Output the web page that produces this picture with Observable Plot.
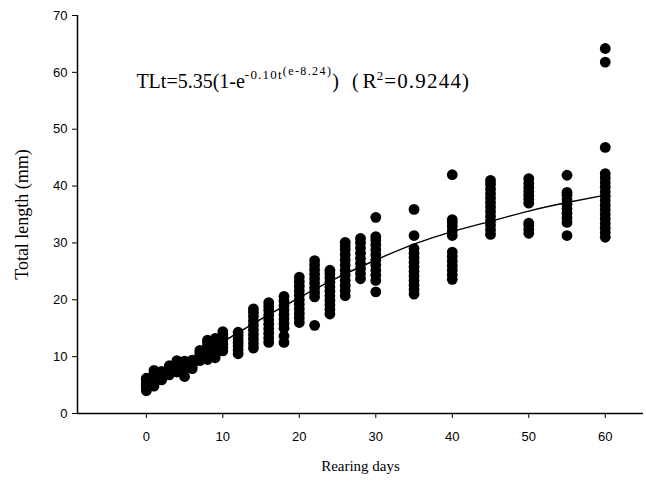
<!DOCTYPE html>
<html><head><meta charset="utf-8">
<script src="https://cdn.jsdelivr.net/npm/d3@7"></script>
<script src="https://cdn.jsdelivr.net/npm/@observablehq/plot@0.6"></script>
<style>body{margin:0;background:#fff}</style>
</head><body><div id="chart"></div>
<script>
const days = [0,1,2,3,4,5,6,7,8,9,10,12,14,16,18,20,22,24,26,28,30,35,40,45,50,55,60];
const lengths = [
  [4.0,4.4,4.8,5.1,5.4,5.7,6.0,6.2],
  [4.8,5.3,5.8,6.3,6.7,7.1,7.6],
  [5.9,6.3,6.7,7.0,7.4],
  [6.8,7.2,7.6,8.0,8.4],
  [7.3,7.8,8.3,8.8,9.3],
  [6.5,7.8,8.3,8.7,9.2],
  [7.9,8.4,8.9,9.4],
  [9.3,9.8,10.3,10.7,11.1],
  [9.5,10.1,10.7,11.3,11.9,12.5,12.9],
  [9.8,10.4,11.0,11.6,12.2,12.8,13.2],
  [11.0,11.6,12.2,12.8,13.4,13.9,14.4],
  [10.5,11.2,11.9,12.5,13.1,13.7,14.3],
  [11.5,12.3,13.1,13.9,14.7,15.5,16.3,17.1,17.8,18.4],
  [12.5,13.3,14.1,14.9,15.7,16.5,17.3,18.1,18.8,19.5],
  [12.5,13.6,15.0,15.8,16.6,17.4,18.2,19.0,19.8,20.6],
  [16.0,16.8,17.6,18.4,19.2,20.0,20.8,21.6,22.4,23.2,24.0],
  [15.5,20.5,21.3,22.1,22.9,23.7,24.5,25.3,26.1,26.9],
  [17.5,18.3,19.1,19.9,20.7,21.5,22.3,23.1,23.9,24.6,25.2],
  [20.7,21.6,22.5,23.4,24.3,25.2,26.1,27.0,27.9,28.8,29.5,30.1],
  [23.7,24.6,25.5,26.4,27.3,28.2,29.1,30.0,30.8],
  [21.4,23.4,24.3,25.2,26.1,27.0,27.9,28.8,29.7,30.5,31.1,34.5],
  [21.0,21.8,22.6,23.4,24.2,25.0,25.8,26.6,27.4,28.2,29.0,31.3,35.9],
  [23.6,24.4,25.2,26.0,26.8,27.6,28.4,31.3,32.1,32.9,33.6,34.1,42.0],
  [31.5,32.3,33.1,33.9,34.7,35.5,36.3,37.1,37.9,38.7,39.5,40.3,41.0],
  [31.7,32.4,33.1,33.5,37.0,37.7,38.4,39.1,39.8,40.5,41.3],
  [31.3,33.6,34.4,35.2,36.0,36.8,37.6,38.4,38.9,41.9],
  [31.0,31.8,32.6,33.4,34.2,35.0,35.8,36.6,37.4,38.2,39.0,39.8,40.6,41.4,42.2,46.8,61.8,64.2]
];
const fitDays = [0,5,10,15,20,25,30,35,40,45,50,55,60];
const fitTL = [5.0,8.6,12.6,16.6,20.4,23.9,27.0,29.8,32.0,33.8,35.6,37.1,38.4];
const xTicks = [0,10,20,30,40,50,60];
const yTicks = [0,10,20,30,40,50,60,70];
const xLabel = "Rearing days";
const yLabel = "Total length (mm)";
const eqParts = ["TLt=5.35(1-e", "-0.10t", "(e-8.24)", ") (", "R", "2", "=0.9244)"];

const points = days.flatMap((d, i) => lengths[i].map(v => ({day: d, tl: v})));
const fit = fitDays.map((d, i) => ({day: d, tl: fitTL[i]}));
const serif = "'Liberation Serif','Times New Roman',serif";
const eqText = eqParts.join("");

const plot = Plot.plot({
  width: 646, height: 481,
  marginLeft: 77, marginRight: 3, marginTop: 15, marginBottom: 68,
  style: {fontFamily: "'Liberation Sans',Arial,sans-serif", fontSize: "13px", background: "#fff", color: "#000"},
  x: {domain: [-9, 65], ticks: xTicks, tickSize: 5, tickPadding: 13, label: null},
  y: {domain: [0, 70], ticks: yTicks, tickSize: 5, tickPadding: 5, label: null},
  marks: [
    Plot.ruleY([0], {stroke: "#000", strokeWidth: 1.5}),
    Plot.ruleX([-9], {stroke: "#000", strokeWidth: 1.5}),
    Plot.dot(points, {x: "day", y: "tl", r: 5.4, fill: "#000", stroke: "none"}),
    Plot.line(fit, {x: "day", y: "tl", curve: "natural", stroke: "#000", strokeWidth: 1.4}),
    Plot.text([xLabel], {frameAnchor: "bottom", dy: 57, textAnchor: "middle", fontFamily: serif, fontSize: 15, fill: "#000"}),
    Plot.text([yLabel], {frameAnchor: "left", dx: -55, rotate: -90, textAnchor: "middle", lineAnchor: "middle", fontFamily: serif, fontSize: 18, fill: "#000"}),
    Plot.text([eqText], {x: [-1.3], y: [57.3], text: d => d, textAnchor: "start", lineAnchor: "bottom",
      fontFamily: serif, fontSize: 20, fill: "#000"})
  ]
});
document.getElementById("chart").appendChild(plot);

// rebuild the equation text with superscripts: [dy, font-size, letter-spacing]
const t = Array.from(plot.querySelectorAll("text")).find(el => el.textContent === eqText);
if (t) {
  t.textContent = "";
  const spec = [[0, 20, 0], [-9, 13, 1.2], [-4, 12, 1.4], [13, 20, 4], [0, 21, 0], [-8, 13, 1], [8, 21, 1.2]];
  eqParts.forEach((s, i) => {
    const ts = document.createElementNS("http://www.w3.org/2000/svg", "tspan");
    ts.setAttribute("dy", spec[i][0]);
    ts.setAttribute("font-size", spec[i][1]);
    ts.setAttribute("letter-spacing", spec[i][2]);
    ts.textContent = s;
    t.appendChild(ts);
  });
}
</script>
</body></html>
